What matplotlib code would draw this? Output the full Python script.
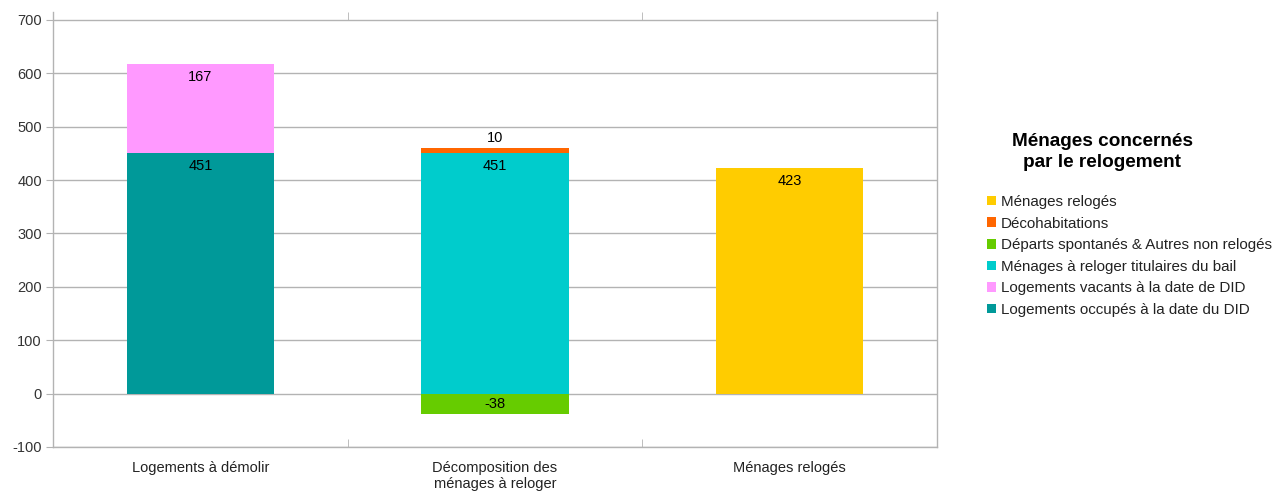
import matplotlib
matplotlib.use("Agg")
import matplotlib.pyplot as plt
from matplotlib.patches import Patch
import numpy as np

plt.rcParams['font.family'] = ['Liberation Sans', 'DejaVu Sans']

categories = ["Logements à démolir", "Décomposition des\nménages à reloger", "Ménages relogés"]
occupes = [451, 0, 0]
vacants = [167, 0, 0]
titulaires = [0, 451, 0]
departs = [0, -38, 0]
decohab = [0, 10, 0]
reloges = [0, 0, 423]

series_names = ["Logements occupés à la date du DID", "Logements vacants à la date de DID",
                "Ménages à reloger titulaires du bail", "Départs spontanés & Autres non relogés",
                "Décohabitations", "Ménages relogés"]
colors = ["#009999", "#ff99ff", "#00cccc", "#66cc00", "#ff6600", "#ffcc00"]
series = [occupes, vacants, titulaires, departs, decohab, reloges]
legend_title = "Ménages concernés\npar le relogement"

fig = plt.figure(figsize=(12.77, 4.91), dpi=100)
ax = fig.add_axes([53/1277, 1-447/491, (937-53)/1277, (447-12)/491])

x = np.arange(len(categories))
width = 0.5
pos_base = np.zeros(len(categories))
neg_base = np.zeros(len(categories))
for vals, col in zip(series, colors):
    v = np.array(vals, dtype=float)
    bottom = np.where(v >= 0, pos_base, neg_base)
    ax.bar(x, v, width, bottom=bottom, color=col, edgecolor='none', zorder=3)
    for i, val in enumerate(v):
        if val == 0:
            continue
        if val > 0:
            top = bottom[i] + val
            if val < 30:
                ax.annotate(f"{int(val)}", (x[i], top), xytext=(0, 2), textcoords='offset points',
                            ha='center', va='bottom', fontsize=10.5, color='#000000', zorder=5)
            else:
                ax.annotate(f"{int(val)}", (x[i], top), xytext=(0, -4.2), textcoords='offset points',
                            ha='center', va='top', fontsize=10.5, color='#000000', zorder=5)
        else:
            ax.text(x[i], bottom[i] + val / 2, f"{int(val)}", ha='center', va='center',
                    fontsize=10.5, color='#000000', zorder=5)
    pos_base = pos_base + np.where(v > 0, v, 0)
    neg_base = neg_base + np.where(v < 0, v, 0)

ax.set_xlim(-0.5, 2.5)
ax.set_ylim(-100, 700 + 8 / 53.375 * 100)
ax.set_yticks(np.arange(-100, 701, 100))
ax.set_yticklabels([str(t) for t in range(-100, 701, 100)], fontsize=10.5, color='#333333')
ax.set_xticks(x)
ax.set_xticklabels(categories, fontsize=10.5, color='#222222')
ax.set_xticks([0.5, 1.5], minor=True)
ax.tick_params(axis='x', which='major', length=0, pad=10)
ax.tick_params(axis='x', which='minor', direction='in', length=5.5, color='#b3b3b3', top=True, bottom=True)
ax.tick_params(axis='y', which='major', length=5, color='#b3b3b3', pad=3)
ax.grid(axis='y', color='#b3b3b3', linewidth=1, zorder=0)
for s in ['left', 'bottom', 'right']:
    ax.spines[s].set_color('#b3b3b3')
    ax.spines[s].set_linewidth(1)
ax.spines['top'].set_visible(False)

fig.text(1102/1277, 1-152/491, legend_title, ha='center', va='center', fontsize=13.7,
         fontweight='bold', linespacing=1.3, color='#000000')

handles = [Patch(facecolor=c, edgecolor='none') for c in colors][::-1]
labels = series_names[::-1]
leg = fig.legend(handles, labels, loc='upper left', bbox_to_anchor=(987/1277, 1-195/491),
                 frameon=False, fontsize=10.9,
                 handlelength=0.6, handleheight=0.6, handletextpad=0.3,
                 labelspacing=0.5, borderaxespad=0, borderpad=0)
for t in leg.get_texts():
    t.set_color('#222222')

fig.savefig("out.png", dpi=100)
